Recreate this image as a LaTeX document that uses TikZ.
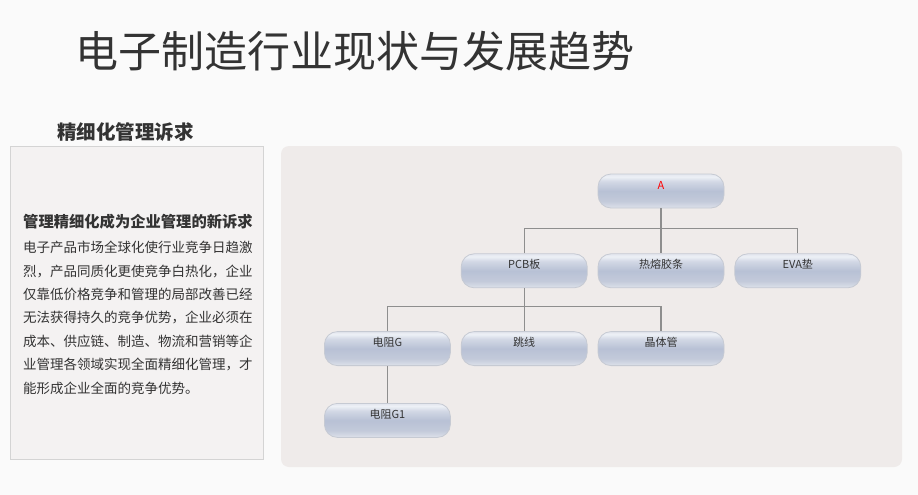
\documentclass[tikz,border=0pt]{standalone}
\usepackage{fontspec}
\setmainfont{Noto Sans CJK SC}
\usetikzlibrary{positioning,calc}
\definecolor{fondo}{HTML}{FAFAFA}
\definecolor{panel}{HTML}{EFEBEA}
\definecolor{caja}{HTML}{F4F2F2}
\definecolor{borde}{HTML}{D4D4D4}
\definecolor{texto}{HTML}{333333}
\definecolor{linea}{HTML}{8E8E8E}
\definecolor{pilborde}{HTML}{C6CAD3}
\definecolor{pilA}{HTML}{DDE1EA}
\definecolor{pilB}{HTML}{C3CADA}
\definecolor{pilC}{HTML}{B8C1D5}
\definecolor{pilD}{HTML}{D2D8E5}
\definecolor{pilE}{HTML}{EDF0F6}
\definecolor{pilF}{HTML}{E3E6EE}
\pgfdeclareverticalshading{pildora}{100bp}{color(0bp)=(pilA); color(25bp)=(pilA);
  color(35bp)=(pilB); color(50bp)=(pilC); color(64bp)=(pilD); color(71bp)=(pilE);
  color(75bp)=(pilF); color(100bp)=(pilF)}

\begin{document}
\begin{tikzpicture}[x=1pt,y=-1pt,
      pill/.style={rounded corners=13pt,draw=pilborde,line width=0.8pt,shading=pildora,
                   minimum height=34pt,minimum width=126pt,inner sep=0pt,
                   text height=8pt,text depth=12pt,font=\fontsize{11}{13}\selectfont,text=texto},
      ln/.style={linea,line width=1.1pt},
      node distance=45pt and 10pt]
    \fill[fondo] (0,0) rectangle (918,495);
    % title and left column
    \node[anchor=west,inner sep=0pt,text=texto,font=\fontsize{43}{45}\selectfont] (title) at (75,51) {电子制造行业现状与发展趋势};
    \node[anchor=west,inner sep=0pt,text=texto,font=\fontsize{19.5}{21}\selectfont\bfseries] (sub) at (57,132) {精细化管理诉求};
    \draw[borde,fill=caja,line width=0.8pt] (10,146) rectangle (263,459);
    \node[anchor=west,inner sep=0pt,text=texto,font=\fontsize{15.3}{17}\selectfont\bfseries] (head) at (23,222) {管理精细化成为企业管理的新诉求};
    \node[anchor=north west,inner sep=0pt,align=left,text=texto,font=\fontsize{13.5}{23.4}\selectfont] (body) at (23,241)
      {电子产品市场全球化使行业竞争日趋激\\烈，产品同质化更使竞争白热化，企业\\仅靠低价格竞争和管理的局部改善已经\\无法获得持久的竞争优势，企业必须在\\成本、供应链、制造、物流和营销等企\\业管理各领域实现全面精细化管理，才\\能形成企业全面的竞争优势。};
    % org chart
    \fill[panel,rounded corners=8pt] (281,146) rectangle (902,467);
    \node[pill,text=red] (A) at (661,191) {A};
    \node[pill,below=of A] (heat) {热熔胶条};
    \node[pill,left=of heat] (pcb) {PCB板};
    \node[pill,right=of heat] (eva) {EVA垫};
    \node[pill,below=43pt of pcb] (jump) {跳线};
    \node[pill,left=of jump] (resG) {电阻G};
    \node[pill,right=of jump] (trans) {晶体管};
    \node[pill,below=37pt of resG] (resG1) {电阻G1};
    \coordinate (busA) at ($(A.south)!.45!(heat.north)$);
    \coordinate (busB) at ($(pcb.south)!.42!(jump.north)$);
    \draw[ln] (A.south) -- (heat.north);
    \draw[ln] (pcb.north) |- (busA) -| (eva.north);
    \draw[ln] (pcb.south) -- (jump.north);
    \draw[ln] (resG.north) |- (busB) -| (trans.north);
    \draw[ln] (resG.south) -- (resG1.north);
\end{tikzpicture}
\end{document}
